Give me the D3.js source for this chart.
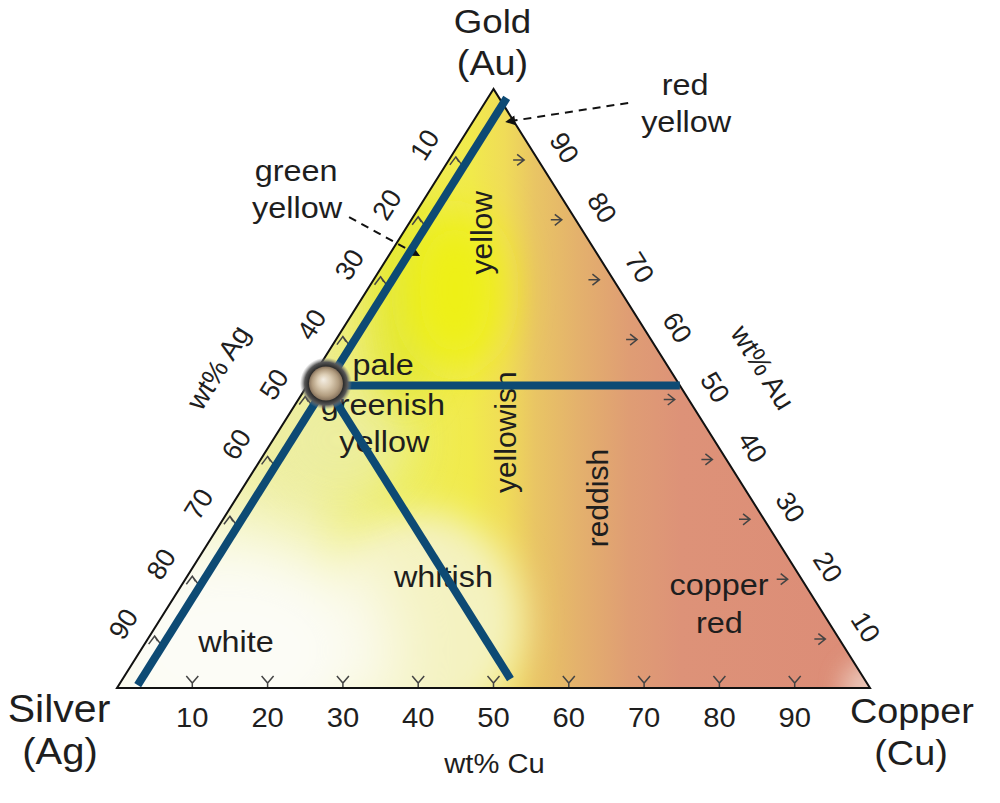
<!DOCTYPE html>
<html><head><meta charset="utf-8">
<script src="https://cdn.jsdelivr.net/npm/d3@7"></script>
<style>
html,body{margin:0;padding:0;background:#fff;}
svg{display:block;font-family:"Liberation Sans",Arial,sans-serif;}
</style></head><body>
<svg id="chart" width="1000" height="803"></svg>
<script>
// ---------------- data ----------------
const vertexNames   = ["Gold", "Silver", "Copper"];
const vertexSymbols = ["(Au)", "(Ag)", "(Cu)"];
const cuTicks = [10, 20, 30, 40, 50, 60, 70, 80, 90];   // bottom axis, wt% Cu
const agTicks = [10, 20, 30, 40, 50, 60, 70, 80, 90];   // left axis, wt% Ag
const auTicks = [10, 20, 30, 40, 50, 60, 70, 80, 90];   // right axis, wt% Au
const axisTitles = ["wt% Ag", "wt% Au", "wt% Cu"];
// boundary lines, points given as [Au, Cu] wt%
const cuBoundary  = [[98.5, 2.5], [0.5, 2.5]];
const auIsopleth  = [[50.5, 2.5], [50.5, 49.5]];
const agIsopleth  = [[50.5, 2.5], [1.5, 51.5]];
const alloyPoint  = [50.5, 2.5];
// colour-region names and their compositions [Au, Cu]
const regionNames = ["yellow", "yellowish", "reddish", "pale", "greenish", "yellow", "whitish", "white", "copper", "red"];
const regionAu    = [76.0, 42.7, 31.7, 52.3, 45.6, 39.4, 16.9, 6.0, 15.5, 9.2];
const regionCu    = [10.4, 30.2, 47.9,  9.2, 12.5, 15.8, 34.9, 12.8, 72.2, 75.4];
// annotated narrow bands: text lines and the composition the arrow points at [Au, Cu]
const bandNames = [["red", "yellow"], ["green", "yellow"]];
const bandAu    = [94.5, 72.1];
const bandCu    = [4.3, 4.2];

// ---------------- scales ----------------
const svg = d3.select("#chart");
const x = d3.scaleLinear().domain([0, 100]).range([117, 870]);
const y = d3.scaleLinear().domain([0, 100]).range([688, 89]);
const P = (au, cu) => [x(cu + au / 2), y(au)];
const SX = 1.08;
const FONT_COLOR = "#1e1e1e";

const defs = svg.append("defs");
const triPts = [P(100, 0), P(0, 0), P(0, 100)];
defs.append("clipPath").attr("id", "tri").append("polygon")
  .attr("points", triPts.map(p => p.join(",")).join(" "));

// base horizontal gradient
const baseStops = [
  [0, "#f2f3c4"], [25, "#eeee98"], [38, "#eeee58"], [47, "#f1ea4c"], [51.5, "#f0dc58"],
  [55.5, "#e9c564"], [61, "#e4b26c"], [68, "#df9d74"], [75, "#dd9278"], [100, "#dc8c77"]
];
const lg = defs.append("linearGradient").attr("id", "base")
  .attr("gradientUnits", "userSpaceOnUse")
  .attr("x1", x(0)).attr("x2", x(100)).attr("y1", 0).attr("y2", 0);
baseStops.forEach(s => lg.append("stop").attr("offset", s[0] + "%").attr("stop-color", s[1]));

function blurFilter(id, sd) {
  defs.append("filter").attr("id", id).attr("x", "-150%").attr("y", "-150%")
    .attr("width", "400%").attr("height", "400%")
    .append("feGaussianBlur").attr("stdDeviation", sd);
}
// soft colour blobs: [Au, Cu, rx, ry, colour, opacity, blur]
const blobs = [
  [11, 35, 100, 110, "#f4f2c0", 1, 18],
  [41.4, 8.9, 70, 60, "#eceea6", 0.8, 25],
  [6.3, 11.8, 165, 125, "#fcfcf6", 1, 38],
  [64.8, 5.8, 35, 110, "#e2e63e", 0.9, 18],
  [66.4, 11.7, 50, 80, "#eef012", 1, 22],
  [0, 100, 28, 28, "#eed4c8", 0.8, 12]
];
blobs.forEach((b, i) => blurFilter("blur" + i, b[6]));

const bg = svg.append("g").attr("clip-path", "url(#tri)");
bg.append("polygon").attr("points", triPts.map(p => p.join(",")).join(" ")).attr("fill", "url(#base)");
blobs.forEach((b, i) => {
  const c = P(b[0], b[1]);
  bg.append("ellipse").attr("cx", c[0]).attr("cy", c[1]).attr("rx", b[2]).attr("ry", b[3])
    .attr("fill", b[4]).attr("opacity", b[5]).attr("filter", `url(#blur${i})`);
});

// outline
svg.append("polygon").attr("points", triPts.map(p => p.join(",")).join(" "))
  .attr("fill", "none").attr("stroke", "#111").attr("stroke-width", 2).attr("stroke-linejoin", "miter");

// ---------------- ticks ----------------
const tickG = svg.append("g").attr("fill", "none").attr("stroke", "#444").attr("stroke-width", 1.5);
cuTicks.forEach(v => {
  const p = P(0, v);
  tickG.append("path").attr("transform", `translate(${p[0]},${p[1]})`)
    .attr("d", "M-6,-12 L0,-5 L6,-12 M0,-5 L0,-1");
});
agTicks.forEach(v => {
  const p = P(100 - v, 0);
  tickG.append("path").attr("transform", `translate(${p[0]},${p[1]})`)
    .attr("d", "M-6,16 L0,8 L6,16 M0,8 L3,13");
});
auTicks.forEach(v => {
  const p = P(v, 100 - v);
  tickG.append("path").attr("transform", `translate(${p[0]},${p[1]})`)
    .attr("d", "M-18,11 L-7,11 M-14,5.5 L-7,11 L-14,16.5");
});

// ---------------- text helpers ----------------
function hText(str, px, py, size) {
  return svg.append("text").attr("transform", `translate(${px},${py}) scale(${SX},1)`)
    .attr("text-anchor", "middle").attr("fill", FONT_COLOR).style("font-size", size + "px").text(str);
}
function rText(str, px, py, size, angle) {
  return svg.append("text").attr("transform", `translate(${px},${py}) rotate(${angle})`)
    .attr("text-anchor", "middle").attr("dominant-baseline", "central")
    .attr("fill", FONT_COLOR).style("font-size", size + "px").text(str);
}

// tick labels
cuTicks.forEach(v => { const p = P(0, v); hText(String(v), p[0], p[1] + 39, 27); });
const leftAngle = Math.atan2(y(100) - y(0), x(50) - x(0)) * 180 / Math.PI;
const rightAngle = Math.atan2(y(0) - y(100), x(100) - x(50)) * 180 / Math.PI;
agTicks.forEach(v => { const p = P(100 - v, 0); rText(String(v), p[0] - 31, p[1] - 4, 27, leftAngle); });
auTicks.forEach(v => { const p = P(v, 100 - v); rText(String(v), p[0] + 33, p[1] - 1, 27, rightAngle); });

// axis titles
{
  const pl = P(50, 0), pr = P(50, 50), pb = P(0, 50);
  rText(axisTitles[0], pl[0] - 87, pl[1] - 21, 28, leftAngle);
  rText(axisTitles[1], pr[0] + 81, pr[1] - 21, 28, rightAngle);
  hText(axisTitles[2], pb[0] + 1, pb[1] + 85, 27);
}

// vertex names
{
  const a = P(100, 0), s = P(0, 0), c = P(0, 100);
  hText(vertexNames[0], a[0] - 1, a[1] - 56, 34);
  hText(vertexSymbols[0], a[0] - 1, a[1] - 14, 35);
  hText(vertexNames[1], s[0] - 58, s[1] + 34, 38);
  hText(vertexSymbols[1], s[0] - 57, s[1] + 76, 37);
  hText(vertexNames[2], c[0] + 42, c[1] + 35, 35);
  hText(vertexSymbols[2], c[0] + 41, c[1] + 77, 35);
}

// region labels
regionNames.forEach((n, i) => {
  const p = P(regionAu[i], regionCu[i]);
  if (i < 3) rText(n, p[0], p[1], 30, -90);
  else hText(n, p[0], p[1], 30);
});

// band annotations with dashed leaders
defs.append("marker").attr("id", "arr").attr("viewBox", "0 0 10 10")
  .attr("refX", 10).attr("refY", 5).attr("markerWidth", 13).attr("markerHeight", 10)
  .attr("markerUnits", "userSpaceOnUse").attr("orient", "auto")
  .append("path").attr("d", "M0,0 L10,5 L0,10 Z").attr("fill", "#111");
const leaderTail = [[123, -19], [-71, -39]];
const leaderText = [[[180, -27], [181, 10]], [[-124, -75], [-123, -38]]];
bandNames.forEach((lines, i) => {
  const tip = P(bandAu[i], bandCu[i]);
  svg.append("line")
    .attr("x1", tip[0] + leaderTail[i][0]).attr("y1", tip[1] + leaderTail[i][1])
    .attr("x2", tip[0]).attr("y2", tip[1])
    .attr("stroke", "#111").attr("stroke-width", 2).attr("stroke-dasharray", "8,6")
    .attr("marker-end", "url(#arr)");
  lines.forEach((t, j) => hText(t, tip[0] + leaderText[i][j][0], tip[1] + leaderText[i][j][1], 30));
});

// ---------------- boundary lines ----------------
const lineGen = d3.line().x(d => P(d[0], d[1])[0]).y(d => P(d[0], d[1])[1]);
[cuBoundary, auIsopleth, agIsopleth].forEach(l => {
  svg.append("path").attr("d", lineGen(l)).attr("fill", "none")
    .attr("stroke", "#0d4a74").attr("stroke-width", 8);
});

// ---------------- alloy point ----------------
const ring = defs.append("radialGradient").attr("id", "ring");
[[0, "#222"], [66, "#2a2a2a"], [82, "#555"], [100, "rgba(140,140,140,0)"]]
  .forEach(s => ring.append("stop").attr("offset", s[0] + "%").attr("stop-color", s[1]));
const metal = defs.append("radialGradient").attr("id", "metal").attr("fx", "42%").attr("fy", "38%");
[[0, "#f4eee4"], [40, "#dccdb4"], [78, "#b29d80"], [100, "#86725c"]]
  .forEach(s => metal.append("stop").attr("offset", s[0] + "%").attr("stop-color", s[1]));
{
  const p = P(alloyPoint[0], alloyPoint[1]);
  svg.append("circle").attr("cx", p[0]).attr("cy", p[1] - 2).attr("r", 26).attr("fill", "url(#ring)");
  svg.append("circle").attr("cx", p[0]).attr("cy", p[1] - 2).attr("r", 17).attr("fill", "url(#metal)");
}
</script>
</body></html>
